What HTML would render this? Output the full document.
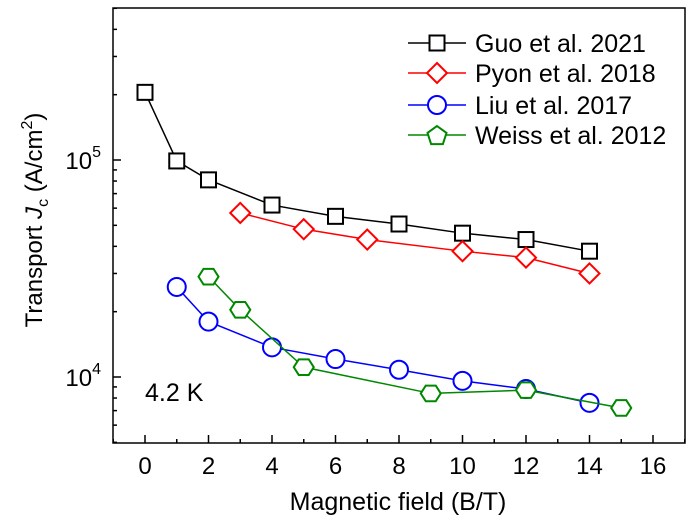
<!DOCTYPE html>
<html><head><meta charset="utf-8"><style>
body{margin:0;background:#fff}
svg text{font-family:"Liberation Sans",Arial,sans-serif}
</style></head><body>
<svg id="chart" width="696" height="526" viewBox="0 0 696 526" xmlns="http://www.w3.org/2000/svg"></svg>
<script>
const xTicks=[0,2,4,6,8,10,12,14,16];
const seriesNames=["Guo et al. 2021","Pyon et al. 2018","Liu et al. 2017","Weiss et al. 2012"];
const guoX=[0,1,2,4,6,8,10,12,14];
const guoY=[205000,99000,81000,62000,55000,50700,46000,43000,38000];
const pyonX=[3,5,7,10,12,14];
const pyonY=[57000,48000,43000,38000,35500,30000];
const liuX=[1,2,4,6,8,10,12,14];
const liuY=[26000,18000,13700,12100,10800,9600,8800,7600];
const weissX=[2,3,5,9,12,15];
const weissY=[29000,20400,11100,8400,8700,7200];

const svg=document.getElementById('chart');
const NS='http://www.w3.org/2000/svg';
const L=113,R=685,T=8,B=443;
function X(v){return 145+v*31.75;}
function Y(v){return 160-(Math.log10(v)-5)*217;}
function mk(tag,attrs,parent){const e=document.createElementNS(NS,tag);for(const k in attrs)e.setAttribute(k,attrs[k]);(parent||svg).appendChild(e);return e;}

const frame=mk('rect',{x:L,y:T,width:R-L,height:B-T,fill:'none',stroke:'#000','stroke-width':1.5});



for(let v=-1;v<=17;v++){
  const x=X(v); if(x<L||x>R)continue;
  const major=v%2===0;
  const t=mk('line',{x1:x,x2:x,y1:B,y2:B-(major?8:4),stroke:'#000','stroke-width':1.5});
  
  
}
xTicks.forEach(v=>{
  const t=mk('text',{x:X(v),y:B+31,'font-size':24,'text-anchor':'middle'});t.textContent=v;
  
  
});
for(let d=3;d<=5;d++){for(let m=1;m<=9;m++){
  const v=m*Math.pow(10,d);const y=Y(v);if(y<T||y>B)continue;
  const t=mk('line',{x1:L,x2:L+(m===1?8:4),y1:y,y2:y,stroke:'#000','stroke-width':1.5});
  
  
  if(m===1){
    const lab=mk('text',{x:L-12,y:y+9,'font-size':24,'text-anchor':'end'});
    lab.innerHTML='10<tspan dy="-12" font-size="16">'+d+'</tspan>';
    
    
  }
}}
const xt=mk('text',{x:398,y:510,'font-size':25,'text-anchor':'middle'});xt.textContent='Magnetic field (B/T)';


const yt=mk('text',{x:0,y:0,'font-size':24,'text-anchor':'middle',transform:'translate(42,220) rotate(-90)'});
yt.innerHTML='Transport <tspan font-style="italic">J</tspan><tspan dy="6" font-size="16">c</tspan><tspan dy="-6"> (A/cm</tspan><tspan dy="-10" font-size="16">2</tspan><tspan dy="10">)</tspan>';


const tl=mk('text',{x:145,y:401,'font-size':25});tl.textContent='4.2 K';



function marker(type,cx,cy,color,g){
  const s=10;let e;
  if(type==='square')e=mk('rect',{x:cx-7.5,y:cy-7.5,width:15,height:15},g);
  else if(type==='diamond')e=mk('polygon',{points:`${cx},${cy-s} ${cx+s},${cy} ${cx},${cy+s} ${cx-s},${cy}`},g);
  else if(type==='circle')e=mk('circle',{cx,cy,r:9},g);
  else if(type==='pent'){let p=[];for(let i=0;i<5;i++){const a=-Math.PI/2+2*Math.PI/5*i;p.push((cx+10*Math.cos(a))+','+(cy+1+10*Math.sin(a)));}e=mk('polygon',{points:p.join(' ')},g);}
  else{let p=[];for(let i=0;i<6;i++){const a=Math.PI/3*i;p.push((cx+10*Math.cos(a))+','+(cy+9*Math.sin(a)));}e=mk('polygon',{points:p.join(' ')},g);}
  e.setAttribute('fill','#fff');e.setAttribute('stroke',color);e.setAttribute('stroke-width',2);
  return e;
}
const series=[[guoX,guoY,'#000','square','guo'],[pyonX,pyonY,'#f00','diamond','pyon'],[liuX,liuY,'#00f','circle','liu'],[weissX,weissY,'#080','hex','weiss']];
series.forEach(([xs,ys,c,type,id])=>{
  const g=mk('g',{});
  
  
  const pl=mk('polyline',{points:xs.map((x,i)=>X(x)+','+Y(ys[i])).join(' '),fill:'none',stroke:c,'stroke-width':1.5},g);
  
  
  xs.forEach((x,i)=>{const m=marker(type,X(x),Y(ys[i]),c,g);
    
    });
});
const legY=[43,73,105,135];
series.forEach(([xs,ys,c,type,id],i)=>{
  const y=legY[i];
  const g=mk('g',{});
  
  
  mk('line',{x1:408,x2:466,y1:y,y2:y,stroke:c,'stroke-width':1.5},g);
  marker(type==='hex'?'pent':type,437,y,c,g);
  const t=mk('text',{x:475,y:y+9,'font-size':25},g);t.textContent=seriesNames[i];
});
</script>
</body></html>
